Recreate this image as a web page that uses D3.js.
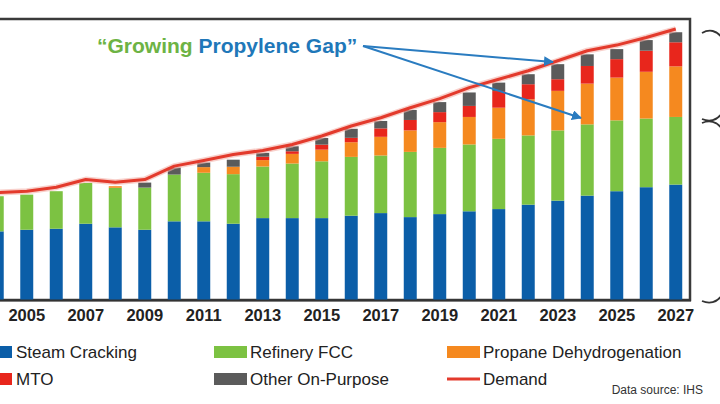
<!DOCTYPE html>
<html>
<head>
<meta charset="utf-8">
<script src="https://cdn.jsdelivr.net/npm/d3@7"></script>
<style>
  body { margin: 0; background: #fff; }
  svg { display: block; font-family: "Liberation Sans", Arial, sans-serif; }
</style>
</head>
<body>
<div id="chart"></div>
<script>
// years shown (2004 is cut at the left edge)
const years = d3.range(2004, 2028);
const tickYears = d3.range(2005, 2028, 2);

// supply by source, stacked bottom to top
const steamCracking = [34.2, 35, 35.5, 38, 36.2, 35, 39.2, 39.2, 38, 40.8, 40.8, 40.8, 42, 43.3, 41.3, 42.8, 44.2, 45.3, 47.5, 49.5, 52, 54.2, 56.2, 57.5];
const refineryFCC   = [17.5, 17.5, 18.7, 20.3, 19.7, 21, 23.3, 24.2, 24.7, 25.7, 27.2, 28.3, 29.3, 28.7, 32.5, 33, 33.3, 35, 34.5, 35, 35.5, 35.3, 34.2, 33.7];
const propaneDH     = [0, 0, 0, 0, 0.8, 0, 0, 2.8, 3.7, 3.2, 4.8, 5.8, 7.3, 9.3, 10.7, 12.8, 13.7, 15.5, 18, 19.7, 20.3, 21.3, 23.3, 25.2];
const mto           = [0, 0, 0, 0, 0, 0, 0, 0, 0, 1.7, 1.3, 2.5, 2.2, 4.2, 5.2, 5, 5.5, 8.3, 7.5, 5.8, 8.8, 9.2, 10.5, 12];
const otherOnPurpose = [0, 0, 0, 0, 0, 2.5, 3.5, 2.3, 3.5, 1.9, 2.5, 3.3, 4.5, 3.7, 5, 5, 6.7, 4.2, 5, 7.5, 5.8, 5, 5.3, 5];
const demand        = [53.5, 54.2, 56.2, 60, 58.7, 60, 66.7, 69.5, 72.5, 74.5, 77.5, 81.7, 86.7, 90.8, 95.8, 100.3, 105.8, 110, 114.2, 119.2, 124.2, 127, 130.8, 135];

const seriesNames = ["Steam Cracking", "Refinery FCC", "Propane Dehydrogenation", "MTO", "Other On-Purpose"];
const seriesColors = ["#0b5ea8", "#7cc242", "#f5891f", "#e8261c", "#5b5b5b"];
const demandColor = "#e33a2c";

const width = 720, height = 404;
const plot = {left: -17.5, right: 690.5, top: 19, bottom: 300};

const svg = d3.select("#chart").append("svg")
    .attr("width", width)
    .attr("height", height);

const x = d3.scaleBand()
    .domain(years)
    .range([plot.left, plot.right])
    .paddingInner(0.56)
    .paddingOuter(0.28);

const y = d3.scaleLinear()
    .domain([0, 140])
    .range([plot.bottom, plot.top]);

// build rows for the stack
const rows = years.map((yr, i) => ({
    year: yr,
    "Steam Cracking": steamCracking[i],
    "Refinery FCC": refineryFCC[i],
    "Propane Dehydrogenation": propaneDH[i],
    "MTO": mto[i],
    "Other On-Purpose": otherOnPurpose[i]
}));

const stacked = d3.stack().keys(seriesNames)(rows);

// plot frame (top and right edges)
svg.append("rect")
    .attr("x", -20)
    .attr("y", plot.top)
    .attr("width", 710)
    .attr("height", plot.bottom - plot.top)
    .attr("fill", "none")
    .attr("stroke", "#3a3a3a")
    .attr("stroke-width", 2.5);

// bars
stacked.forEach((layer, idx) => {
    svg.append("g")
        .attr("fill", seriesColors[idx])
        .selectAll("rect")
        .data(layer)
        .enter().append("rect")
        .attr("x", d => x(d.data.year))
        .attr("y", d => y(d[1]))
        .attr("width", x.bandwidth())
        .attr("height", d => y(d[0]) - y(d[1]));
});

// demand line (with a soft halo like the original)
const line = d3.line()
    .x((d, i) => x(years[i]) + x.bandwidth() / 2)
    .y(d => y(d));

svg.append("path")
    .datum(demand)
    .attr("d", line)
    .attr("fill", "none")
    .attr("stroke", "#f4b0a8")
    .attr("stroke-width", 6)
    .attr("stroke-linejoin", "round")
    .attr("opacity", 0.6);

svg.append("path")
    .datum(demand)
    .attr("d", line)
    .attr("fill", "none")
    .attr("stroke", demandColor)
    .attr("stroke-width", 3)
    .attr("stroke-linejoin", "round");

// x axis
const xAxis = svg.append("g")
    .attr("transform", `translate(0,${plot.bottom})`)
    .call(d3.axisBottom(x).tickValues(tickYears).tickSize(0).tickPadding(9));

xAxis.select(".domain")
    .attr("stroke", "#333")
    .attr("stroke-width", 2);

xAxis.selectAll("text")
    .attr("font-family", "Liberation Sans, Arial, sans-serif")
    .attr("font-size", 16.5)
    .attr("font-weight", "bold")
    .attr("fill", "#222");

// annotation
const note = svg.append("text")
    .attr("x", 97)
    .attr("y", 53)
    .attr("font-size", 21)
    .attr("font-weight", "bold");
note.append("tspan").attr("fill", "#6db344").text("\u201CGrowing ");
note.append("tspan").attr("fill", "#1f78b9").text("Propylene Gap\u201D");

svg.append("defs").append("marker")
    .attr("id", "arrow")
    .attr("viewBox", "0 0 10 10")
    .attr("refX", 9)
    .attr("refY", 5)
    .attr("markerWidth", 5)
    .attr("markerHeight", 5)
    .attr("orient", "auto")
    .append("path")
    .attr("d", "M0,0 L10,5 L0,10 Z")
    .attr("fill", "#2a7cc0");

const arrowStart = [363, 46];
const arrowEnds = [[553, 62], [581, 118]];
arrowEnds.forEach(end => {
    svg.append("line")
        .attr("x1", arrowStart[0])
        .attr("y1", arrowStart[1])
        .attr("x2", end[0])
        .attr("y2", end[1])
        .attr("stroke", "#2a7cc0")
        .attr("stroke-width", 2)
        .attr("marker-end", "url(#arrow)");
});

// brace pieces on the right edge (rest is cropped)
const braces = [
    "M702,33 C709,29 717,30 722,38",
    "M702,119 C709,122 717,121 722,113",
    "M702,123 C709,120 717,121 722,129",
    "M702,301 C709,304 717,303 722,295"
];
braces.forEach(p => {
    svg.append("path")
        .attr("d", p)
        .attr("fill", "none")
        .attr("stroke", "#333")
        .attr("stroke-width", 1.8);
});

// legend
const legendItems = [
    {name: "Steam Cracking", color: seriesColors[0], x: -20, y: 352, type: "box"},
    {name: "Refinery FCC", color: seriesColors[1], x: 214, y: 352, type: "box"},
    {name: "Propane Dehydrogenation", color: seriesColors[2], x: 447, y: 352, type: "box"},
    {name: "MTO", color: seriesColors[3], x: -20, y: 379, type: "box"},
    {name: "Other On-Purpose", color: seriesColors[4], x: 214, y: 379, type: "box"},
    {name: "Demand", color: demandColor, x: 447, y: 379, type: "line"}
];

const legend = svg.append("g");
legendItems.forEach(item => {
    const g = legend.append("g");
    if (item.type === "box") {
        g.append("rect")
            .attr("x", item.x)
            .attr("y", item.y - 6)
            .attr("width", item.x < 0 ? 32 : 33)
            .attr("height", 12)
            .attr("fill", item.color);
    } else {
        g.append("line")
            .attr("x1", item.x)
            .attr("x2", item.x + 33)
            .attr("y1", item.y)
            .attr("y2", item.y)
            .attr("stroke", item.color)
            .attr("stroke-width", 3);
    }
    g.append("text")
        .attr("x", item.x < 0 ? 16 : item.x + 36)
        .attr("y", item.y)
        .attr("dy", "0.35em")
        .attr("font-size", 17)
        .attr("fill", "#222")
        .text(item.name);
});

svg.append("text")
    .attr("x", 703)
    .attr("y", 394)
    .attr("text-anchor", "end")
    .attr("font-size", 12)
    .attr("fill", "#333")
    .text("Data source: IHS");
</script>
</body>
</html>
